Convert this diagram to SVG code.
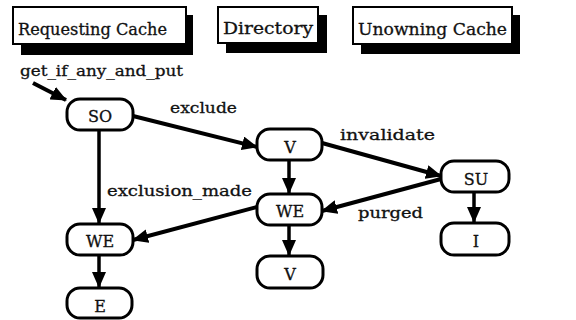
<svg xmlns="http://www.w3.org/2000/svg" width="576" height="320" viewBox="0 0 576 320">
  <style>
    .hdr rect.box { fill: #fff; stroke: #000; stroke-width: 2; }
    .hdr rect.shadow { fill: #000; }
    .hdr text { font-family: 'DejaVu Serif', 'Liberation Serif', serif; font-size: 16px; fill: #111; stroke: #111; stroke-width: 0.3; }
    .node rect { fill: #fff; stroke: #000; stroke-width: 3; }
    .node text { font-family: 'DejaVu Serif', 'Liberation Serif', serif; font-size: 16px; fill: #111; stroke: #111; stroke-width: 0.3; text-anchor: middle; }
    .edge { fill: none; stroke: #000; stroke-width: 4; marker-end: url(#head); }
    .vedge { fill: none; stroke: #000; stroke-width: 3.5; marker-end: url(#head); }
    .lbl { font-family: 'DejaVu Serif', 'Liberation Serif', serif; font-size: 15px; fill: #111; stroke: #111; stroke-width: 0.3; }
  </style>
  <defs>
    <marker id="head" markerUnits="userSpaceOnUse" markerWidth="16" markerHeight="14" viewBox="0 0 16 14" refX="15" refY="7" orient="auto">
      <path d="M0,0 L16,7 L0,14 Z" fill="#000"/>
    </marker>
  </defs>
  <rect width="576" height="320" fill="#fff"/>

  <!-- column headers -->
  <g id="hdr-requesting" class="hdr">
    <rect class="shadow" x="21" y="15" width="172" height="40"/>
    <rect class="box" x="13" y="7" width="173" height="37"/>
    <text x="18" y="35" textLength="149" lengthAdjust="spacingAndGlyphs">Requesting Cache</text>
  </g>
  <g id="hdr-directory" class="hdr">
    <rect class="shadow" x="226" y="15" width="101" height="38"/>
    <rect class="box" x="218" y="7" width="100" height="36"/>
    <text x="223" y="34" textLength="90" lengthAdjust="spacingAndGlyphs">Directory</text>
  </g>
  <g id="hdr-unowning" class="hdr">
    <rect class="shadow" x="361" y="15" width="159" height="39"/>
    <rect class="box" x="353" y="7" width="159" height="37"/>
    <text x="358" y="35" textLength="149" lengthAdjust="spacingAndGlyphs">Unowning Cache</text>
  </g>

  <!-- transitions -->
  <g id="connectors">
    <path class="edge" d="M33,83 L66,100"/>
    <path class="edge" d="M133,116 L257,147"/>
    <path class="edge" d="M322,143 L441,176"/>
    <path class="edge" d="M441,179 L322,211"/>
    <path class="edge" d="M257,207 L133,240"/>
    <path class="vedge" d="M99,130 L99,223"/>
    <path class="vedge" d="M99,255 L99,287"/>
    <path class="vedge" d="M289,160 L289,193"/>
    <path class="vedge" d="M289,225 L289,255"/>
    <path class="vedge" d="M474,192 L474,222"/>
  </g>

  <!-- transition labels -->
  <g id="labels">
    <text class="lbl" x="20" y="76" textLength="163" lengthAdjust="spacingAndGlyphs">get_if_any_and_put</text>
    <text class="lbl" x="170" y="113" textLength="67" lengthAdjust="spacingAndGlyphs">exclude</text>
    <text class="lbl" x="340" y="140" textLength="95" lengthAdjust="spacingAndGlyphs">invalidate</text>
    <text class="lbl" x="107" y="196" textLength="145" lengthAdjust="spacingAndGlyphs">exclusion_made</text>
    <text class="lbl" x="358" y="218" textLength="65" lengthAdjust="spacingAndGlyphs">purged</text>
  </g>

  <!-- states -->
  <g id="n-so" class="node">
    <rect x="67" y="99" width="66" height="31" rx="13"/>
    <text x="100" y="122">SO</text>
  </g>
  <g id="n-we-req" class="node">
    <rect x="67" y="224" width="66" height="31" rx="13"/>
    <text x="100" y="247">WE</text>
  </g>
  <g id="n-e" class="node">
    <rect x="67" y="288" width="65" height="30" rx="13"/>
    <text x="100" y="312">E</text>
  </g>
  <g id="n-v-dir" class="node">
    <rect x="257" y="129" width="65" height="31" rx="13"/>
    <text x="290" y="153">V</text>
  </g>
  <g id="n-we-dir" class="node">
    <rect x="257" y="194" width="65" height="31" rx="13"/>
    <text x="290" y="217">WE</text>
  </g>
  <g id="n-v-end" class="node">
    <rect x="257" y="256" width="66" height="32" rx="13"/>
    <text x="290" y="280">V</text>
  </g>
  <g id="n-su" class="node">
    <rect x="441" y="161" width="68" height="31" rx="13"/>
    <text x="476" y="185">SU</text>
  </g>
  <g id="n-i" class="node">
    <rect x="441" y="223" width="68" height="32" rx="13"/>
    <text x="476" y="247">I</text>
  </g>
</svg>
